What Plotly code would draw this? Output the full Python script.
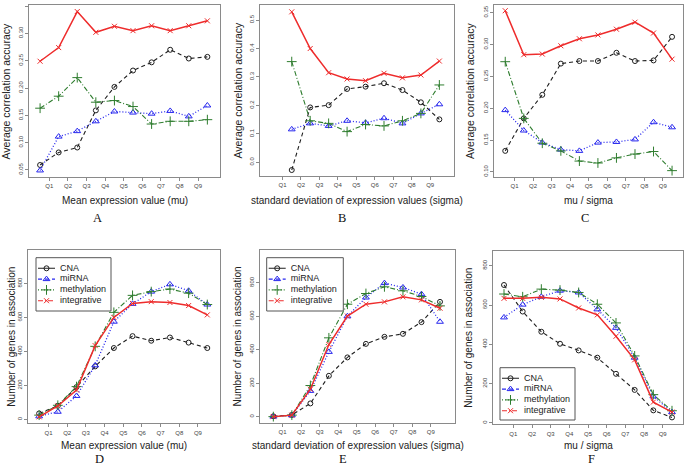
import plotly.graph_objects as go

W, H = 685, 468

# ---------------- data ----------------
bins = [1, 2, 3, 4, 5, 6, 7, 8, 9, 10]
quantile_labels = ["Q1", "Q2", "Q3", "Q4", "Q5", "Q6", "Q7", "Q8", "Q9"]
series_names = ["CNA", "miRNA", "methylation", "integrative"]

# A: accuracy vs mean expression (mu)
acc_mu_cna = [0.059, 0.082, 0.091, 0.159, 0.202, 0.232, 0.247, 0.270, 0.254, 0.257]
acc_mu_mirna = [0.049, 0.111, 0.121, 0.139, 0.157, 0.155, 0.153, 0.158, 0.148, 0.168]
acc_mu_meth = [0.163, 0.185, 0.219, 0.174, 0.177, 0.166, 0.134, 0.139, 0.139, 0.142]
acc_mu_integ = [0.249, 0.274, 0.340, 0.302, 0.313, 0.305, 0.314, 0.305, 0.314, 0.323]

# B: accuracy vs sigma (first bin missing)
acc_sd_cna = [None, -0.027, 0.193, 0.201, 0.258, 0.266, 0.278, 0.254, 0.211, 0.151]
acc_sd_mirna = [None, 0.116, 0.137, 0.128, 0.146, 0.139, 0.155, 0.137, 0.172, 0.204]
acc_sd_meth = [None, 0.354, 0.146, 0.137, 0.108, 0.133, 0.128, 0.146, 0.172, 0.272]
acc_sd_integ = [None, 0.529, 0.400, 0.315, 0.293, 0.287, 0.313, 0.297, 0.307, 0.356]

# C: accuracy vs mu/sigma
acc_cv_cna = [0.133, 0.184, 0.221, 0.270, 0.274, 0.274, 0.287, 0.274, 0.275, 0.312]
acc_cv_mirna = [0.197, 0.165, 0.146, 0.135, 0.133, 0.146, 0.147, 0.151, 0.178, 0.170]
acc_cv_meth = [0.273, 0.184, 0.145, 0.133, 0.117, 0.114, 0.122, 0.128, 0.132, 0.102]
acc_cv_integ = [0.353, 0.284, 0.285, 0.298, 0.309, 0.315, 0.324, 0.335, 0.318, 0.277]

# D: number of genes vs mu
genes_mu_cna = [35, 80, 190, 312, 420, 490, 463, 482, 452, 420]
genes_mu_mirna = [18, 45, 138, 318, 575, 680, 752, 795, 757, 676]
genes_mu_meth = [25, 83, 193, 430, 630, 730, 752, 767, 743, 676]
genes_mu_integ = [15, 79, 173, 434, 600, 682, 693, 688, 670, 615]

# E: number of genes vs sigma
genes_sd_cna = [2, 10, 79, 244, 354, 435, 477, 495, 565, 686]
genes_sd_mirna = [0, 8, 154, 387, 600, 712, 798, 772, 732, 567]
genes_sd_meth = [0, 9, 186, 471, 672, 736, 776, 752, 718, 662]
genes_sd_integ = [0, 9, 164, 431, 601, 672, 686, 716, 698, 648]

# F: number of genes vs mu/sigma
genes_cv_cna = [702, 567, 464, 403, 369, 332, 250, 168, 64, 28]
genes_cv_mirna = [537, 602, 642, 673, 664, 578, 484, 332, 135, 55]
genes_cv_meth = [656, 642, 681, 676, 664, 604, 509, 341, 144, 62]
genes_cv_integ = [634, 634, 639, 631, 585, 550, 441, 321, 106, 55]

acc_ticks_a = [0.05, 0.10, 0.15, 0.20, 0.25, 0.30, 0.35]
acc_ticks_b = [0.0, 0.1, 0.2, 0.3, 0.4, 0.5]
acc_ticks_c = [0.10, 0.15, 0.20, 0.25, 0.30, 0.35]
gene_ticks = [0, 200, 400, 600, 800]

x_titles = ["Mean expression value (mu)",
            "standard deviation of expression values (sigma)",
            "mu / sigma"]
y_title_acc = "Average correlation accuracy"
y_title_genes = "Number of genes in association"
panel_letters = ["A", "B", "C", "D", "E", "F"]

# ---------------- styles ----------------
COL = {"CNA": "#1e1e1e", "miRNA": "#2626ee", "methylation": "#2f7d2f", "integrative": "#ee2c2c"}
PLOT_DASH = {"CNA": "4px,3px", "miRNA": "1px,2px", "methylation": "5px,2px,1px,2px", "integrative": "solid"}
LEG_DASH = {"CNA": "solid", "miRNA": "4px,3px", "methylation": "1px,2px", "integrative": "5px,2px,1px,2px"}
SYM = {"CNA": "circle-open", "miRNA": "triangle-up-open", "methylation": "cross-thin-open", "integrative": "x-thin-open"}
MSIZE = {"CNA": 5, "miRNA": 6, "methylation": 7, "integrative": 5}
LW = {"CNA": 1.1, "miRNA": 1.3, "methylation": 1.1, "integrative": 1.5}

def px_x(p):
    return p / W

def px_y(p):
    return 1 - p / H

# panel geometry (pixel boxes) and axis ranges
panels = [
    dict(box=(29.3, 220.0, 5, 177), xr=[0.42, 10.68], yr=[0.037, 0.352], ticks=acc_ticks_a, fmt=".2f",
         data=[acc_mu_cna, acc_mu_mirna, acc_mu_meth, acc_mu_integ], xt=x_titles[0], yt=y_title_acc,
         ytx=5.5, letter=(98, 218)),
    dict(box=(260.0, 454.3, 5, 176), xr=[0.28, 10.81], yr=[-0.048, 0.553], ticks=acc_ticks_b, fmt=".1f",
         data=[acc_sd_cna, acc_sd_mirna, acc_sd_meth, acc_sd_integ], xt=x_titles[1], yt=y_title_acc,
         ytx=238, letter=(342, 218)),
    dict(box=(494.3, 683.0, 5, 177), xr=[0.41, 10.59], yr=[0.092, 0.362], ticks=acc_ticks_c, fmt=".2f",
         data=[acc_cv_cna, acc_cv_mirna, acc_cv_meth, acc_cv_integ], xt=x_titles[2], yt=y_title_acc,
         ytx=470, letter=(585, 218)),
    dict(box=(28.3, 220.0, 250, 423.3), xr=[0.42, 10.68], yr=[-23, 997], ticks=gene_ticks, fmt="d",
         data=[genes_mu_cna, genes_mu_mirna, genes_mu_meth, genes_mu_integ], xt=x_titles[0], yt=y_title_genes,
         ytx=12, letter=(100, None)),
    dict(box=(260.0, 455.0, 250, 423.0), xr=[0.28, 10.81], yr=[-38, 996], ticks=gene_ticks, fmt="d",
         data=[genes_sd_cna, genes_sd_mirna, genes_sd_meth, genes_sd_integ], xt=x_titles[1], yt=y_title_genes,
         ytx=237, letter=(343, None)),
    dict(box=(493.0, 683.0, 251, 424.3), xr=[0.41, 10.59], yr=[-7, 875], ticks=gene_ticks, fmt="d",
         data=[genes_cv_cna, genes_cv_mirna, genes_cv_meth, genes_cv_integ], xt=x_titles[2], yt=y_title_genes,
         ytx=469, letter=(591, None)),
]

legend_boxes = [(36.0, 111.0, 257.7, 311.0), (266.7, 343.3, 257.7, 311.0), (500.0, 575.0, 367.7, 420.0)]

fig = go.Figure()
layout = dict(width=W, height=H, margin=dict(l=0, r=0, t=0, b=0),
              paper_bgcolor="white", plot_bgcolor="white", showlegend=False,
              font=dict(family="Liberation Sans, Arial, sans-serif", color="#222"))
annotations = []
shapes = []

tick_pos = [b + 0.5 for b in bins[:-1]]

for i, p in enumerate(panels):
    n = i + 1
    xa = "x" if n == 1 else f"x{n}"
    ya = "y" if n == 1 else f"y{n}"
    x0, x1, y0, y1 = p["box"]
    common = dict(showgrid=False, zeroline=False, showline=True, mirror=True, linecolor="#8a8a8a",
                  linewidth=1, ticks="outside", ticklen=3, tickcolor="#8a8a8a", tickwidth=1,
                  tickfont=dict(size=6, color="#444"))
    layout["xaxis" if n == 1 else f"xaxis{n}"] = dict(
        domain=[px_x(x0), px_x(x1)], range=p["xr"], anchor=ya,
        tickmode="array", tickvals=tick_pos, ticktext=quantile_labels, **common)
    layout["yaxis" if n == 1 else f"yaxis{n}"] = dict(
        domain=[px_y(y1), px_y(y0)], range=p["yr"], anchor=xa,
        tickmode="array", tickvals=p["ticks"], tickformat=p["fmt"], tickangle=-90, **common)
    for name, vals in zip(series_names, p["data"]):
        fig.add_trace(go.Scatter(
            x=bins, y=vals, xaxis=xa, yaxis=ya, mode="lines+markers", name=name,
            line=dict(color=COL[name], width=LW[name], dash=PLOT_DASH[name]),
            marker=dict(symbol=SYM[name], size=MSIZE[name], color=COL[name],
                        line=dict(color=COL[name], width=1)),
            connectgaps=False, showlegend=False))
    # axis titles and panel letters
    xc = (x0 + x1) / 2
    xt_y = 200 if i < 3 else 445
    annotations.append(dict(text=p["xt"], x=px_x(xc), y=px_y(xt_y), xref="paper", yref="paper",
                            showarrow=False, xanchor="center", yanchor="middle",
                            font=dict(size=10, color="#222")))
    annotations.append(dict(text=p["yt"], x=px_x(p["ytx"]), y=px_y((y0 + y1) / 2), xref="paper",
                            yref="paper", showarrow=False, xanchor="center", yanchor="middle",
                            textangle=-90, font=dict(size=10.5 if i < 3 else 10, color="#222")))
    lx, ly = p["letter"]
    letter_font = dict(size=12.5, family="Liberation Serif, Times New Roman, serif", color="#111")
    if ly is None:
        annotations.append(dict(text=panel_letters[i], x=px_x(lx), y=0, xref="paper", yref="paper",
                                showarrow=False, xanchor="center", yanchor="bottom",
                                font=letter_font))
    else:
        annotations.append(dict(text=panel_letters[i], x=px_x(lx), y=px_y(ly), xref="paper",
                                yref="paper", showarrow=False, xanchor="center", yanchor="middle",
                                font=letter_font))

# legends (D, E, F) drawn on hidden pixel-scaled axes
for k, (bx0, bx1, by0, by1) in enumerate(legend_boxes):
    n = 7 + k
    xa, ya = f"x{n}", f"y{n}"
    w, h = bx1 - bx0, by1 - by0
    layout[f"xaxis{n}"] = dict(domain=[px_x(bx0), px_x(bx1)], range=[0, w], visible=False,
                               anchor=ya, fixedrange=True)
    layout[f"yaxis{n}"] = dict(domain=[px_y(by1), px_y(by0)], range=[h, 0], visible=False,
                               anchor=xa, fixedrange=True)
    shapes.append(dict(type="rect", xref="paper", yref="paper", x0=px_x(bx0), x1=px_x(bx1),
                       y0=px_y(by1), y1=px_y(by0), line=dict(color="#555", width=1),
                       fillcolor="rgba(0,0,0,0)"))
    for j, name in enumerate(series_names):
        yo = 10.6 + j * 10.8
        fig.add_trace(go.Scatter(x=[2, 19], y=[yo, yo], xaxis=xa, yaxis=ya, mode="lines",
                                 line=dict(color=COL[name], width=1.1, dash=LEG_DASH[name]),
                                 showlegend=False, hoverinfo="skip"))
        fig.add_trace(go.Scatter(x=[10.5], y=[yo], xaxis=xa, yaxis=ya, mode="markers",
                                 marker=dict(symbol=SYM[name], size=MSIZE[name], color=COL[name],
                                             line=dict(color=COL[name], width=1)),
                                 showlegend=False, hoverinfo="skip"))
        fig.add_trace(go.Scatter(x=[24], y=[yo], xaxis=xa, yaxis=ya, mode="text", text=[name],
                                 textposition="middle right",
                                 textfont=dict(size=9, color="#222"),
                                 showlegend=False, hoverinfo="skip"))

layout["annotations"] = annotations
layout["shapes"] = shapes
fig.update_layout(**layout)
fig.write_html("out.html", config={"displayModeBar": False},
               post_script="document.body.style.margin='0';document.body.style.overflow='hidden';")
